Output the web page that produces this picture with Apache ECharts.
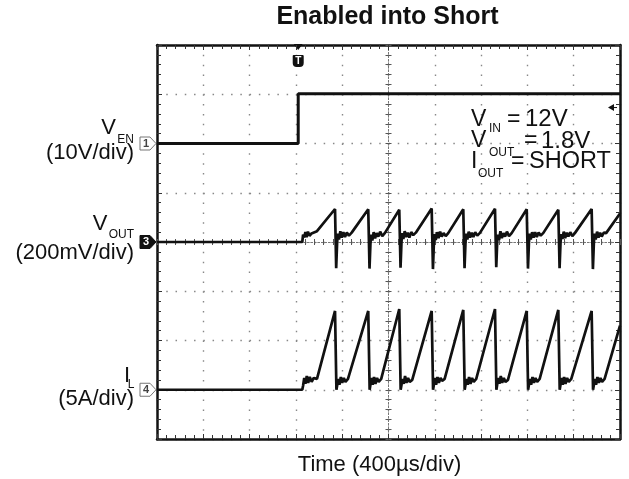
<!DOCTYPE html>
<html>
<head>
<meta charset="utf-8">
<title>Enabled into Short</title>
<script src="https://cdn.jsdelivr.net/npm/echarts@6/dist/echarts.min.js"></script>
<style>
  html, body { margin: 0; padding: 0; background: #fff; }
  #chart { width: 629px; height: 479px; }
</style>
</head>
<body>
<div id="chart"></div>
<script>
'use strict';

// scope screen: 10 x 400us horizontally, 8 divs vertically
var timeMin = -1200;
var timeMax = 2800;
var timePerDiv = 400;
var divMin = -4;
var divMax = 4;

// channel settings (ground position in divs, units per div)
var channelTags = ['1', '3', '4'];
var channelGround = [2, 0, -3];
var channelScale = [10, 200, 5];   // V/div, mV/div, A/div
var triggerTime = 20;              // us
var triggerLevel = 7.3;            // V on VEN

// VEN [us, V]
var venTrace = [
  [-1200, 0], [20, 0], [20, 10.1], [2800, 10.1]
];

// VOUT [us, mV]
var voutTrace = [
  [-1200, 0], [55, 0], [62, 30], [72, 18], [82, 40], [92, 20], [104, 42], [118, 25], [135, 35], [150, 28], [182, 44],
  [338, 134], [348, -106], [356, -4], [362, 34], [372, 10], [384, 44], [396, 18], [410, 40], [424, 20], [440, 38], [458, 26], [482, 38],
  [625, 133], [636, -108], [644, -6], [650, 30], [660, 6], [672, 40], [684, 15], [698, 36], [712, 22], [728, 42], [746, 24], [768, 36],
  [893, 131], [904, -104], [912, -2], [918, 36], [928, 12], [940, 44], [952, 20], [966, 38], [980, 18], [996, 40], [1014, 28], [1036, 38],
  [1173, 136], [1184, -110], [1192, -6], [1198, 32], [1208, 8], [1220, 40], [1232, 16], [1246, 42], [1260, 22], [1276, 36], [1294, 24], [1316, 36],
  [1446, 133], [1457, -106], [1465, -4], [1471, 34], [1481, 10], [1493, 42], [1505, 18], [1519, 38], [1533, 20], [1549, 40], [1567, 26], [1590, 37],
  [1720, 135], [1731, -102], [1739, -2], [1745, 30], [1755, 8], [1767, 44], [1779, 16], [1793, 36], [1807, 22], [1823, 42], [1841, 24], [1864, 36],
  [1994, 133], [2005, -108], [2013, -6], [2019, 34], [2029, 10], [2041, 40], [2053, 18], [2067, 40], [2081, 20], [2097, 38], [2115, 26], [2138, 37],
  [2267, 131], [2278, -106], [2286, -4], [2292, 32], [2302, 12], [2314, 42], [2326, 16], [2340, 38], [2354, 22], [2370, 40], [2388, 24], [2410, 36],
  [2555, 134], [2566, -110], [2574, -6], [2580, 34], [2590, 10], [2602, 42], [2614, 18], [2628, 38], [2642, 22], [2660, 38], [2680, 36],
  [2800, 116]
];

// IL [us, A]
var ilTrace = [
  [-1200, 0], [55, 0], [62, 0.4], [72, 1.2], [82, 0.6], [94, 1.4], [106, 0.7], [120, 1.3], [136, 0.8], [154, 1.2], [182, 1.1],
  [338, 8.0], [350, 0], [358, 0.1], [366, 1.1], [376, 0.5], [388, 1.3], [400, 0.7], [414, 1.2], [428, 0.8], [450, 1.1],
  [625, 8.0], [637, 0], [645, 0.1], [653, 1.2], [663, 0.5], [675, 1.3], [687, 0.6], [701, 1.2], [715, 0.8], [737, 1.1],
  [893, 8.2], [905, 0], [913, 0.1], [921, 1.1], [931, 0.6], [943, 1.4], [955, 0.7], [969, 1.2], [983, 0.8], [1005, 1.0],
  [1173, 8.0], [1185, 0], [1193, 0.1], [1201, 1.2], [1211, 0.5], [1223, 1.3], [1235, 0.7], [1249, 1.2], [1263, 0.9], [1285, 1.1],
  [1446, 8.1], [1458, 0], [1466, 0.1], [1474, 1.1], [1484, 0.5], [1496, 1.3], [1508, 0.6], [1522, 1.2], [1536, 0.8], [1558, 1.1],
  [1720, 8.2], [1732, 0], [1740, 0.1], [1748, 1.2], [1758, 0.6], [1770, 1.4], [1782, 0.7], [1796, 1.2], [1810, 0.8], [1832, 1.0],
  [1994, 8.0], [2006, 0], [2014, 0.1], [2022, 1.1], [2032, 0.5], [2044, 1.3], [2056, 0.7], [2070, 1.2], [2084, 0.8], [2106, 1.1],
  [2267, 8.1], [2279, 0], [2287, 0.1], [2295, 1.2], [2305, 0.5], [2317, 1.3], [2329, 0.6], [2343, 1.2], [2357, 0.8], [2379, 1.1],
  [2555, 8.0], [2567, 0], [2575, 0.1], [2583, 1.1], [2593, 0.5], [2605, 1.3], [2617, 0.7], [2631, 1.2], [2645, 0.8], [2667, 1.1],
  [2800, 6.5]
];

var traces = [venTrace, voutTrace, ilTrace];

function toDivs(trace, ch) {
  return trace.map(function (p) {
    return [p[0], channelGround[ch] + p[1] / channelScale[ch]];
  });
}

var fontFamily = '"Liberation Sans", Arial, sans-serif';
var ink = '#111';

function scopeAxis(extra) {
  var axis = {
    type: 'value',
    axisLabel: { show: false },
    splitLine: { show: false },
    axisLine: { show: true, onZero: false, lineStyle: { color: ink, width: 2.5 } },
    axisTick: { show: true, inside: true, length: 5, lineStyle: { color: '#333', width: 1 } },
    minorTick: { show: true, splitNumber: 5, length: 4, lineStyle: { color: '#333', width: 1 } }
  };
  return Object.assign(axis, extra);
}

function centerAxis(extra, inside) {
  return scopeAxis(Object.assign({
    axisLine: { show: true, onZero: false, lineStyle: { color: '#777', width: 1, type: [1.5, 2] } },
    axisTick: { show: true, inside: inside, length: 3, lineStyle: { color: '#555', width: 1 } },
    minorTick: { show: true, splitNumber: 5, length: 3, lineStyle: { color: '#555', width: 1 } }
  }, extra));
}

var xRange = { min: timeMin, max: timeMax, interval: timePerDiv };
var yRange = { min: divMin, max: divMax, interval: 1 };

var option = {
  animation: false,
  grid: { left: 157, top: 45, width: 463, height: 394 },
  xAxis: [
    scopeAxis(Object.assign({
      position: 'bottom',
      splitLine: { show: true, lineStyle: { color: '#888', width: 1.4, type: [1.5, 8.35] } }
    }, xRange)),
    scopeAxis(Object.assign({ position: 'top' }, xRange)),
    centerAxis(Object.assign({ position: 'bottom', offset: -197 }, xRange), false),
    centerAxis(Object.assign({ position: 'bottom', offset: -197 }, xRange), true)
  ],
  yAxis: [
    scopeAxis(Object.assign({
      position: 'left',
      splitLine: { show: true, lineStyle: { color: '#888', width: 1.4, type: [1.5, 7.76] } }
    }, yRange)),
    scopeAxis(Object.assign({ position: 'right' }, yRange)),
    centerAxis(Object.assign({ position: 'left', offset: -231.5 }, yRange), false),
    centerAxis(Object.assign({ position: 'left', offset: -231.5 }, yRange), true)
  ],
  series: traces.map(function (trace, ch) {
    return {
      type: 'line',
      xAxisIndex: 0,
      yAxisIndex: 0,
      data: toDivs(trace, ch),
      showSymbol: false,
      silent: true,
      lineStyle: { color: ink, width: ch === 0 ? 3 : 2.7 }
    };
  })
};

var chart = echarts.init(document.getElementById('chart'));
chart.setOption(option);

function px(t, div) {
  return chart.convertToPixel({ xAxisIndex: 0, yAxisIndex: 0 }, [t, div]);
}

function label(text, x, y, size, align, weight) {
  return {
    type: 'text',
    x: x,
    y: y,
    silent: true,
    style: {
      text: text,
      fill: ink,
      font: (weight || 'normal') + ' ' + size + 'px ' + fontFamily,
      align: align,
      verticalAlign: 'middle'
    }
  };
}

var graphics = [
  label('Enabled into Short', 387.5, 17.5, 25, 'center', 'bold'),
  label('Time (400\u00b5s/div)', 379.5, 464.5, 22, 'center'),

  // channel names on the left
  label('V', 116, 127.5, 22, 'right'),
  label('EN', 134, 139.5, 12, 'right'),
  label('(10V/div)', 134, 153, 22, 'right'),
  label('V', 107.5, 223.5, 22, 'right'),
  label('OUT', 134, 235, 12, 'right'),
  label('(200mV/div)', 134, 252.5, 22, 'right'),
  label('I', 130, 376, 22, 'right'),
  label('L', 134.5, 385, 12, 'right'),
  label('(5A/div)', 134, 399, 22, 'right'),

  // test conditions
  label('V', 471, 119.5, 23, 'left'),
  label('IN', 489, 129, 12, 'left'),
  label('=', 507, 119.5, 23, 'left'),
  label('12V', 525, 119.5, 24, 'left'),
  label('V', 471, 141, 23, 'left'),
  label('OUT', 489, 152.5, 12, 'left'),
  label('=', 524, 141, 23, 'left'),
  label('1.8V', 541, 141, 24, 'left'),
  label('I', 471, 162, 23, 'left'),
  label('OUT', 478, 173.5, 12, 'left'),
  label('=', 511, 162, 23, 'left'),
  label('SHORT', 529, 162, 23.5, 'left')
];

// channel ground markers on the left edge
channelGround.forEach(function (g, ch) {
  var p = px(timeMin, g);
  var tipX = p[0] - 1;
  var y = p[1];
  var filled = ch === 1;
  graphics.push({
    type: 'polygon',
    silent: true,
    shape: { points: [[tipX - 16, y - 6.5], [tipX - 6, y - 6.5], [tipX, y], [tipX - 6, y + 6.5], [tipX - 16, y + 6.5]] },
    style: { fill: filled ? ink : '#fff', stroke: filled ? ink : '#777', lineWidth: 1 }
  });
  graphics.push({
    type: 'text',
    x: tipX - 10,
    y: y,
    silent: true,
    style: {
      text: channelTags[ch],
      fill: filled ? '#fff' : '#444',
      font: 'bold 11px ' + fontFamily,
      align: 'center',
      verticalAlign: 'middle'
    }
  });
});

// trigger position marker at the top
var tp = px(triggerTime, divMax);
graphics.push({
  type: 'polygon',
  silent: true,
  shape: { points: [[tp[0] - 4.5, tp[1] - 1], [tp[0] + 4.5, tp[1] - 1], [tp[0], tp[1] + 5]] },
  style: { fill: ink }
});
graphics.push({
  type: 'rect',
  silent: true,
  shape: { x: tp[0] - 5.5, y: tp[1] + 10, width: 11, height: 12, r: [1, 1, 4, 4] },
  style: { fill: ink }
});
graphics.push({
  type: 'text',
  x: tp[0],
  y: tp[1] + 16,
  silent: true,
  style: { text: 'T', fill: '#fff', font: 'bold 10px ' + fontFamily, align: 'center', verticalAlign: 'middle' }
});

// trigger level marker on the right
var lp = px(timeMax, channelGround[0] + triggerLevel / channelScale[0]);
graphics.push({
  type: 'polygon',
  silent: true,
  shape: { points: [[lp[0] - 12, lp[1]], [lp[0] - 6, lp[1] - 3.5], [lp[0] - 6, lp[1] + 3.5]] },
  style: { fill: ink }
});
graphics.push({
  type: 'line',
  silent: true,
  shape: { x1: lp[0] - 6, y1: lp[1], x2: lp[0] - 3, y2: lp[1] },
  style: { stroke: ink, lineWidth: 1 }
});

chart.setOption({ graphic: graphics });
</script>
</body>
</html>
